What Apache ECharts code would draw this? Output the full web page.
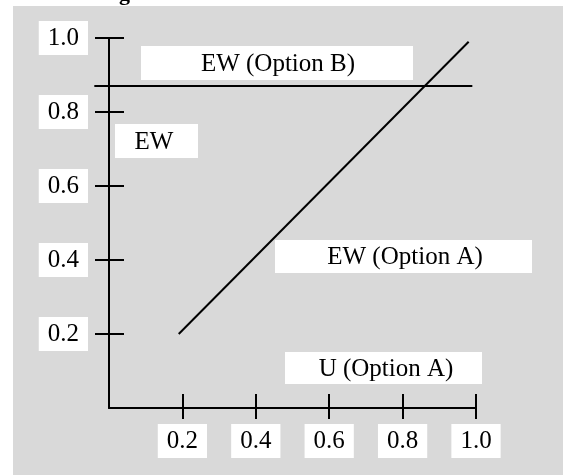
<!DOCTYPE html>
<html>
<head>
<meta charset="utf-8">
<script src="https://cdn.jsdelivr.net/npm/echarts@6/dist/echarts.min.js"></script>
<style>
  html, body { margin: 0; padding: 0; background: #fff; }
  #chart { width: 563px; height: 475px; }
</style>
</head>
<body>
<div id="chart"></div>
<script>
// tick labels
const xTicks = [0.2, 0.4, 0.6, 0.8, 1.0]
const yTicks = [0.2, 0.4, 0.6, 0.8, 1.0]
// EW (Option A) line, as drawn
const optionA = [[0.19, 0.2], [0.98, 0.99]]
// EW (Option B) level line, as drawn (starts a little left of the y axis)
const optionB = [[-0.04, 0.87], [0.99, 0.87]]
// text boxes
const notes = ['EW (Option B)', 'EW', 'EW (Option A)', 'U (Option A)']

const FONT = "'Liberation Serif', 'Times New Roman', serif"
const chart = echarts.init(document.getElementById('chart'))

// plot area: x 0..1 spans 367px, y 0..1 spans 370px
const PX_PER_X = 367
const extraLeft = -optionB[0][0] * PX_PER_X

const labelStyle = {
  fontFamily: FONT,
  fontSize: 25,
  color: '#000',
  backgroundColor: '#fff',
  lineHeight: 25,
  padding: [5, 9, 4, 9],
  formatter: v => Number(v).toFixed(1)
}

function noteBox (text, x, y, w, h, tx) {
  return {
    type: 'group',
    children: [
      { type: 'rect', shape: { x: x, y: y, width: w, height: h }, style: { fill: '#fff' } },
      {
        type: 'text',
        x: tx,
        y: y + h / 2 + 1,
        style: { text: text, font: '25px ' + FONT, fill: '#000', align: 'center', verticalAlign: 'middle' }
      }
    ]
  }
}

function hiddenAxis (extra) {
  return Object.assign({
    type: 'value', min: 0, max: 1,
    axisLine: { show: false }, axisTick: { show: false },
    axisLabel: { show: false }, splitLine: { show: false }
  }, extra)
}

chart.setOption({
  animation: false,
  grid: [
    { left: 109, top: 38, right: 87, bottom: 67 },
    // same plot area, widened to the left so the level line can start before x = 0
    { left: 109 - extraLeft, top: 38, right: 87, bottom: 67 }
  ],
  graphic: [
    { type: 'rect', z: -10, shape: { x: 13, y: 6, width: 550, height: 469 }, style: { fill: '#d9d9d9' } },
    { type: 'text', x: 119, y: -17, style: { text: 'g', font: 'bold 22px ' + FONT, fill: '#000' } },
    noteBox(notes[0], 141, 46, 272, 34, 278),
    noteBox(notes[1], 115, 124, 83, 34, 154),
    noteBox(notes[2], 275, 240, 257, 33, 405),
    noteBox(notes[3], 285, 352, 197, 32, 386)
  ],
  xAxis: [
    {
      type: 'value', min: 0, max: 1, interval: 0.2,
      axisLine: { show: true, lineStyle: { color: '#000', width: 2 } },
      axisTick: { show: true, length: 11, customValues: xTicks, lineStyle: { color: '#000', width: 2 } },
      axisLabel: Object.assign({ margin: 16, customValues: xTicks }, labelStyle),
      splitLine: { show: false }
    },
    {
      type: 'value', min: 0, max: 1, interval: 0.2, position: 'bottom',
      axisLine: { show: false },
      axisTick: { show: true, inside: true, length: 14, customValues: xTicks, lineStyle: { color: '#000', width: 2 } },
      axisLabel: { show: false },
      splitLine: { show: false }
    },
    hiddenAxis({ gridIndex: 1, min: optionB[0][0] })
  ],
  yAxis: [
    {
      type: 'value', min: 0, max: 1, interval: 0.2,
      axisLine: { show: true, lineStyle: { color: '#000', width: 2 } },
      axisTick: { show: true, length: 14, customValues: yTicks, lineStyle: { color: '#000', width: 2 } },
      axisLabel: Object.assign({ margin: 21, customValues: yTicks }, labelStyle),
      splitLine: { show: false }
    },
    {
      type: 'value', min: 0, max: 1, interval: 0.2, position: 'left',
      axisLine: { show: false },
      axisTick: { show: true, inside: true, length: 15, customValues: yTicks, lineStyle: { color: '#000', width: 2 } },
      axisLabel: { show: false },
      splitLine: { show: false }
    },
    hiddenAxis({ gridIndex: 1 })
  ],
  series: [
    {
      name: 'EW (Option A)',
      type: 'line',
      data: optionA,
      symbol: 'none',
      lineStyle: { color: '#000', width: 2 }
    },
    {
      name: 'EW (Option B)',
      type: 'line',
      xAxisIndex: 2,
      yAxisIndex: 2,
      data: optionB,
      symbol: 'none',
      lineStyle: { color: '#000', width: 2 }
    }
  ]
})
</script>
</body>
</html>
